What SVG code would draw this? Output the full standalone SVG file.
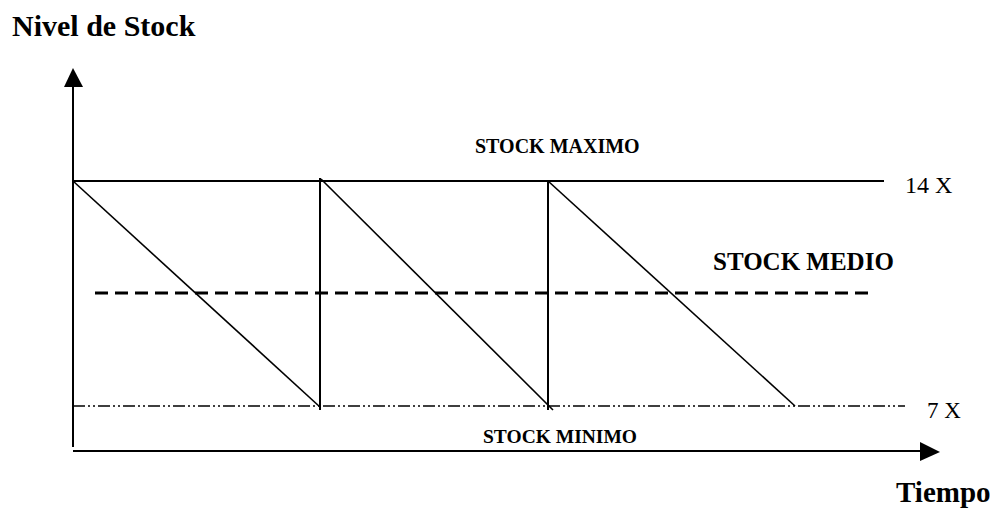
<svg xmlns="http://www.w3.org/2000/svg" width="1000" height="510" viewBox="0 0 1000 510">
  <style>
    text { font-family: "Liberation Serif", "Times New Roman", serif; fill: #000; }
    .bold { font-weight: bold; }
    .line { stroke: #000; stroke-width: 2; fill: none; }
    .thin { stroke: #000; stroke-width: 1.6; fill: none; }
  </style>
  <rect width="1000" height="510" fill="#fff"/>

  <!-- axes -->
  <g id="axes">
    <line class="line" x1="73" y1="447" x2="73" y2="87"/>
    <path d="M64,87 L73,68 L83,87 Z" fill="#000"/>
    <line class="line" x1="73" y1="451" x2="921" y2="451"/>
    <path d="M920,442 L940,452 L920,461 Z" fill="#000"/>
  </g>

  <!-- reference levels -->
  <g id="levels">
    <line class="line" x1="73" y1="181" x2="884" y2="181"/>
    <line x1="73" y1="406" x2="905" y2="406" stroke="#000" stroke-width="1.3" stroke-dasharray="12 3 2 3 2 3"/>
    <line x1="95" y1="293" x2="875" y2="293" stroke="#000" stroke-width="3" stroke-dasharray="13 7"/>
  </g>

  <!-- saw-tooth stock curve -->
  <g id="curve">
    <line class="thin" x1="73" y1="181" x2="320" y2="407"/>
    <line class="line" x1="320" y1="178" x2="320" y2="410"/>
    <line class="thin" x1="321" y1="179" x2="553" y2="410"/>
    <line class="line" x1="548" y1="181" x2="548" y2="410"/>
    <line class="thin" x1="548" y1="181" x2="795" y2="406"/>
  </g>

  <!-- labels -->
  <g id="labels">
    <text class="bold" x="12" y="36" font-size="30">Nivel de Stock</text>
    <text class="bold" x="475" y="153" font-size="20">STOCK MAXIMO</text>
    <text x="905" y="193" font-size="24">14 X</text>
    <text class="bold" x="713" y="270" font-size="25">STOCK MEDIO</text>
    <text x="927" y="418" font-size="23">7 X</text>
    <text class="bold" x="483" y="443" font-size="19.5">STOCK MINIMO</text>
    <text class="bold" x="896" y="502" font-size="29">Tiempo</text>
  </g>
</svg>
